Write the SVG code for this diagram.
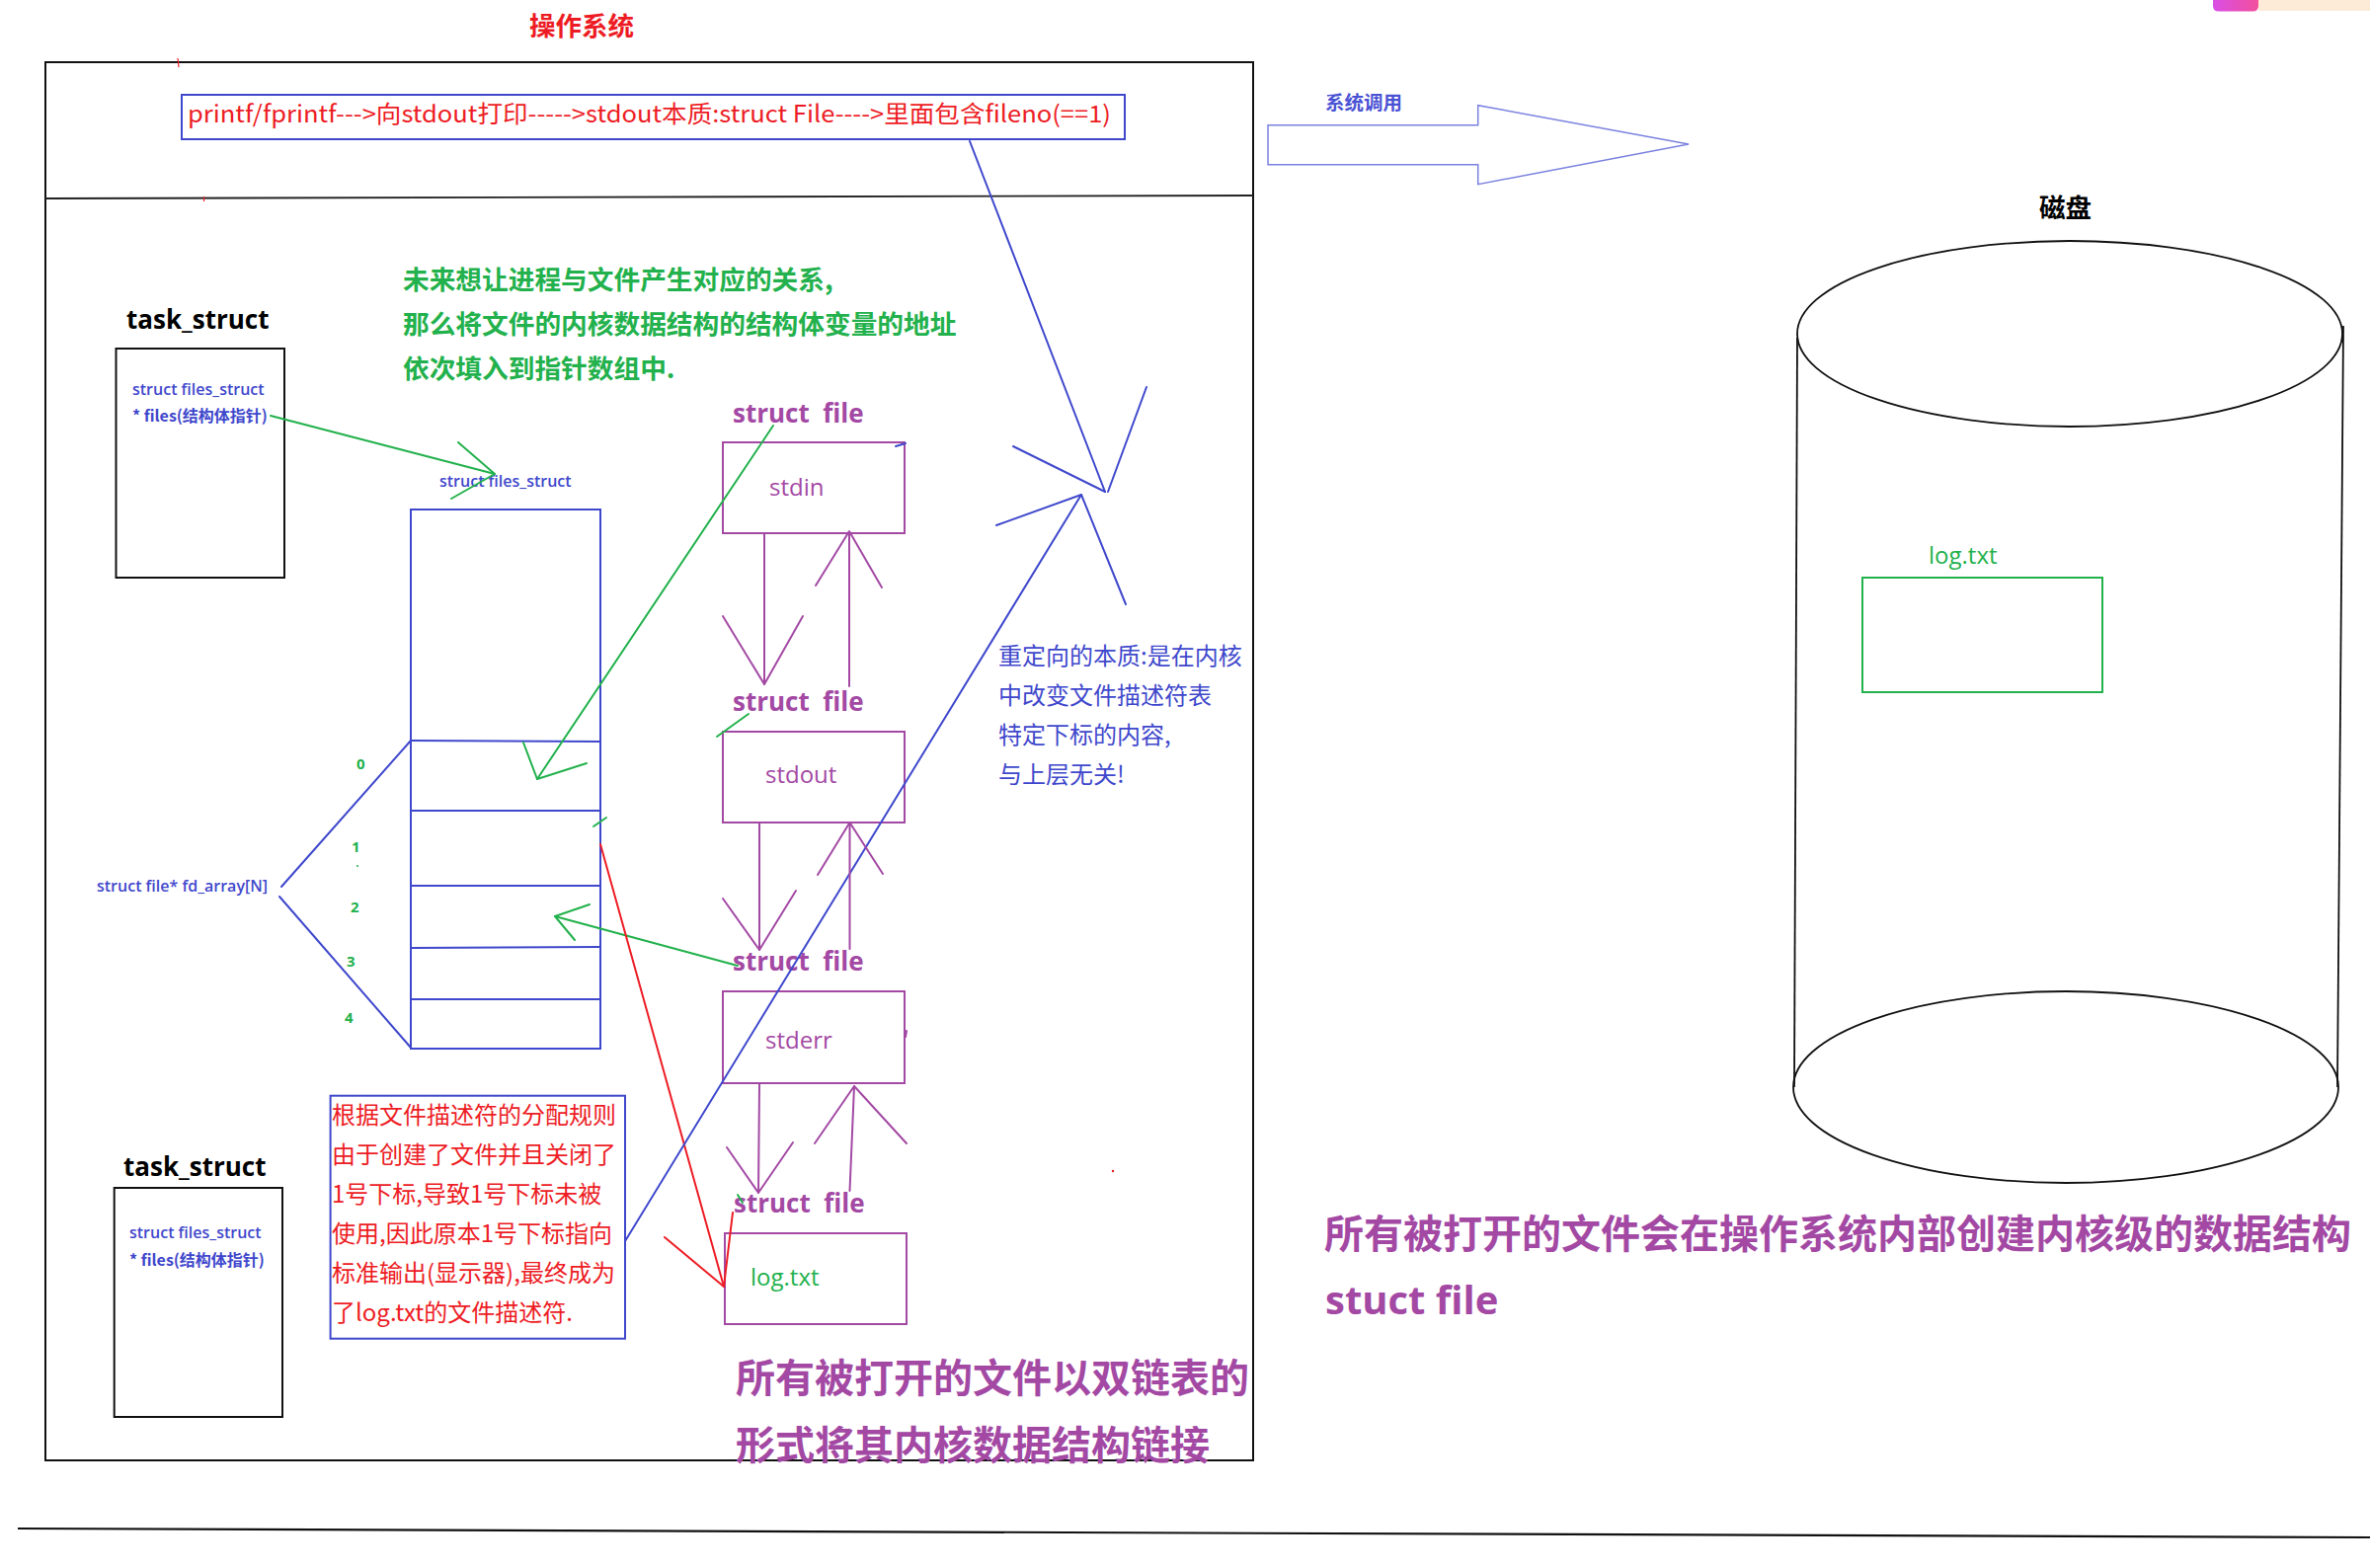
<svg xmlns="http://www.w3.org/2000/svg" width="2400" height="1588" viewBox="0 0 2400 1588">
<defs>
<linearGradient id="pinkg" x1="0" y1="0" x2="1" y2="0"><stop offset="0" stop-color="#d94ee6"/><stop offset="1" stop-color="#f24f9c"/></linearGradient>
<style>
.cjk{font-family:"Noto Sans CJK SC","Noto Sans",sans-serif}
.lat{font-family:"Open Sans","Noto Sans CJK SC",sans-serif}
.b{font-weight:700}
.sb{font-weight:600}
.red{fill:#ed1c24}.grn{fill:#22b14c}.blu{fill:#3f48cc}.pur{fill:#a349a4}.blk{fill:#000}
.bx{fill:none;stroke-width:2}
.sblk{stroke:#111}.sblu{stroke:#3f48cc}.spur{stroke:#a349a4}.sgrn{stroke:#22b14c}
.ln{fill:none;stroke-width:2;stroke-linecap:round;stroke-linejoin:round}
.lr{stroke:#ed1c24}.lg{stroke:#22b14c}.lb{stroke:#3f48cc}.lp{stroke:#a349a4}
</style>
</defs>
<rect width="2400" height="1588" fill="#fff"/>

<!-- screen artifact top right -->
<g id="artifact">
<rect x="2287" y="0" width="113" height="11" fill="#fdebd8"/>
<path d="M2241 0 H2287 V6 Q2287 11.5 2281 11.5 H2247 Q2241 11.5 2241 6 Z" fill="url(#pinkg)"/>
</g>

<g id="title"><text class="cjk b red" x="536" y="36" font-size="26.5">操作系统</text></g>

<g id="os-frame">
<rect x="46" y="63" width="1223" height="1416" class="bx sblk" stroke-width="1.8"/>
<line x1="46" y1="201" x2="1269" y2="198" stroke="#222" stroke-width="1.8"/>
<line x1="180" y1="59" x2="181" y2="68" stroke="#ed1c24" stroke-width="1.2"/>
<line x1="206.5" y1="199" x2="206.5" y2="204" stroke="#ed1c24" stroke-width="1.2"/>
<circle cx="1127" cy="1186" r="1.2" fill="#ed1c24"/>
</g>

<g id="printf-note">
<rect x="184" y="96" width="955" height="45" class="bx sblu"/>
<text class="cjk red" x="190" y="124" font-size="24" textLength="935" lengthAdjust="spacingAndGlyphs">printf/fprintf---&gt;向stdout打印-----&gt;stdout本质:struct File----&gt;里面包含fileno(==1)</text>
</g>

<g id="syscall-arrow">
<polygon points="1284,126.7 1496.7,126.7 1496.7,106.7 1710,146 1496.7,186.7 1496.7,166.7 1284,166.7" fill="none" stroke="#7b82e0" stroke-width="1.5"/>
<text class="cjk b" fill="#4a52d4" x="1342" y="111" font-size="19.5">系统调用</text>
</g>

<g id="disk">
<text class="cjk b blk" x="2065" y="220" font-size="26.5">磁盘</text>
<ellipse cx="2096" cy="338" rx="276" ry="94" fill="none" stroke="#111" stroke-width="1.8"/>
<line x1="1820" y1="342" x2="1817" y2="1101" stroke="#111" stroke-width="1.8"/>
<line x1="2373" y1="330" x2="2367" y2="1101" stroke="#111" stroke-width="1.8"/>
<ellipse cx="2092" cy="1101" rx="276" ry="97" fill="none" stroke="#111" stroke-width="1.8"/>
</g>

<g id="disk-logtxt">
<text class="lat grn" x="1953" y="571" font-size="24">log.txt</text>
<rect x="1886" y="585" width="243" height="116" class="bx sgrn"/>
</g>

<g id="note-kernel-struct">
<text class="cjk b pur" x="1341" y="1264" font-size="40">所有被打开的文件会在操作系统内部创建内核级的数据结构</text>
<text class="lat b pur" x="1342" y="1331" font-size="40">stuct file</text>
</g>

<g id="note-green">
<text class="cjk b grn" x="408" y="293" font-size="26.7">未来想让进程与文件产生对应的关系,</text>
<text class="cjk b grn" x="408" y="338" font-size="26.7">那么将文件的内核数据结构的结构体变量的地址</text>
<text class="cjk b grn" x="408" y="383" font-size="26.7">依次填入到指针数组中.</text>
</g>

<g id="task-struct-1">
<text class="lat b blk" x="128" y="333" font-size="26">task_struct</text>
<rect x="117.5" y="353" width="170.5" height="232" class="bx sblk"/>
<text class="lat sb blu" x="134" y="400" font-size="16">struct files_struct</text>
<text class="cjk sb blu" x="134" y="427" font-size="16">* files(结构体指针)</text>
</g>

<g id="task-struct-2">
<text class="lat b blk" x="125" y="1191" font-size="26">task_struct</text>
<rect x="115.7" y="1203" width="170.3" height="232" class="bx sblk"/>
<text class="lat sb blu" x="131" y="1254" font-size="16">struct files_struct</text>
<text class="cjk sb blu" x="131" y="1282" font-size="16">* files(结构体指针)</text>
</g>

<g id="files-struct">
<text class="lat sb blu" x="445" y="493" font-size="16">struct files_struct</text>
<rect x="416" y="516" width="192" height="546" class="bx sblu"/>
<line x1="416" y1="750" x2="608" y2="751" class="ln lb"/>
<line x1="416" y1="821" x2="608" y2="821" class="ln lb"/>
<line x1="416" y1="897" x2="608" y2="897" class="ln lb"/>
<line x1="416" y1="960" x2="608" y2="959" class="ln lb"/>
<line x1="416" y1="1012" x2="608" y2="1012" class="ln lb"/>
<text class="lat b grn" x="361" y="779" font-size="15">0</text>
<text class="lat b grn" x="356" y="863" font-size="15">1</text>
<circle cx="362" cy="877" r="1" fill="#22b14c"/>
<text class="lat b grn" x="355" y="924" font-size="15">2</text>
<text class="lat b grn" x="351" y="979" font-size="15">3</text>
<text class="lat b grn" x="349" y="1036" font-size="15">4</text>
</g>

<g id="fd-array">
<text class="lat sb blu" x="98" y="903" font-size="16">struct file* fd_array[N]</text>
<polyline points="416,750 285,898" class="ln lb"/>
<polyline points="283,908 416,1061" class="ln lb"/>
</g>

<g id="file-stdin">
<text class="lat b pur" x="742" y="428" font-size="26" xml:space="preserve">struct  file</text>
<rect x="732" y="448" width="184" height="92" class="bx spur"/>
<text class="lat pur" x="779" y="502" font-size="24">stdin</text>
</g>

<g id="file-stdout">
<text class="lat b pur" x="742" y="720" font-size="26" xml:space="preserve">struct  file</text>
<rect x="732" y="741" width="184" height="92" class="bx spur"/>
<text class="lat pur" x="775" y="793" font-size="24">stdout</text>
</g>

<g id="file-stderr">
<text class="lat b pur" x="742" y="983" font-size="26" xml:space="preserve">struct  file</text>
<rect x="732" y="1004" width="184" height="93" class="bx spur"/>
<text class="lat pur" x="775" y="1062" font-size="24">stderr</text>
</g>

<g id="file-logtxt">
<text class="lat b pur" x="743" y="1228" font-size="26" xml:space="preserve">struct  file</text>
<rect x="734" y="1249" width="184" height="92" class="bx spur"/>
<text class="lat grn" x="760" y="1302" font-size="24">log.txt</text>
</g>

<g id="note-redirect">
<text class="cjk blu" x="1011" y="673" font-size="24">重定向的本质:是在内核</text>
<text class="cjk blu" x="1011" y="713" font-size="24">中改变文件描述符表</text>
<text class="cjk blu" x="1011" y="753" font-size="24">特定下标的内容,</text>
<text class="cjk blu" x="1011" y="793" font-size="24">与上层无关!</text>
</g>

<g id="note-fd-rule">
<rect x="334.6" y="1109.7" width="298.4" height="246" class="bx sblu"/>
<text class="cjk red" x="336" y="1138" font-size="24">根据文件描述符的分配规则</text>
<text class="cjk red" x="336" y="1178" font-size="24">由于创建了文件并且关闭了</text>
<text class="cjk red" x="336" y="1218" font-size="24">1号下标,导致1号下标未被</text>
<text class="cjk red" x="336" y="1258" font-size="24">使用,因此原本1号下标指向</text>
<text class="cjk red" x="336" y="1298" font-size="24">标准输出(显示器),最终成为</text>
<text class="cjk red" x="336" y="1338" font-size="24">了log.txt的文件描述符.</text>
</g>

<g id="note-linked-list">
<text class="cjk b pur" x="745" y="1410" font-size="40">所有被打开的文件以双链表的</text>
<text class="cjk b pur" x="745" y="1478" font-size="40">形式将其内核数据结构链接</text>
</g>

<g id="bottom-rule">
<line x1="18" y1="1548" x2="2400" y2="1557" stroke="#111" stroke-width="2.2"/>
</g>

<g id="connectors">
<!-- task_struct -> files_struct -->
<polyline points="274,421 501,480" class="ln lg"/>
<polyline points="464,448 501,480 457,505" class="ln lg"/>
<!-- stdin struct file -> fd 0 -->
<polyline points="783,431 544,789" class="ln lg"/>
<polyline points="530,752 544,789 594,773" class="ln lg"/>
<!-- stderr struct file -> fd 2 -->
<polyline points="747,978 562,928" class="ln lg"/>
<polyline points="597,916 562,928 582,952" class="ln lg"/>
<!-- small green ticks -->
<line x1="758" y1="723" x2="726" y2="746" class="ln lg"/>
<line x1="601" y1="837" x2="614" y2="828" class="ln lg"/>
<line x1="747" y1="1210" x2="752" y2="1218" class="ln lg" stroke-width="1.5"/>
<!-- fd 1 -> log.txt (red) -->
<polyline points="608,855 733,1303" class="ln lr"/>
<polyline points="673,1253 733,1303 742,1228" class="ln lr"/>
<!-- printf box -> redirect point (blue) -->
<polyline points="982,143 1119,498" class="ln lb"/>
<polyline points="1026,452 1119,498" class="ln lb"/>
<polyline points="1161,392 1122,498" class="ln lb"/>
<!-- fd rule box -> redirect point (blue) -->
<polyline points="633,1257 1095,501" class="ln lb"/>
<polyline points="1009,532 1095,501 1140,612" class="ln lb"/>
<!-- small blue tick -->
<line x1="907" y1="452" x2="917" y2="449" class="ln lb" stroke-width="1.5"/>
<!-- doubly linked list arrows (purple) -->
<line x1="774" y1="540" x2="774" y2="693" class="ln lp"/>
<polyline points="732,624 774,693 813,624" class="ln lp"/>
<line x1="860" y1="695" x2="860" y2="540" class="ln lp"/>
<polyline points="826,593 860,538 893,595" class="ln lp"/>
<line x1="769" y1="833" x2="769" y2="962" class="ln lp"/>
<polyline points="732,910 769,962 806,902" class="ln lp"/>
<line x1="860.5" y1="961" x2="860.5" y2="834" class="ln lp"/>
<polyline points="828,886 860.5,833 894,885" class="ln lp"/>
<line x1="769" y1="1098" x2="768" y2="1208" class="ln lp"/>
<polyline points="736,1162 768,1208 803,1157" class="ln lp"/>
<line x1="860.5" y1="1206" x2="865" y2="1100" class="ln lp"/>
<polyline points="825,1158 865,1100 918,1158" class="ln lp"/>
<line x1="918" y1="1044" x2="917" y2="1050" class="ln lp" stroke-width="1.5"/>
</g>
</svg>
